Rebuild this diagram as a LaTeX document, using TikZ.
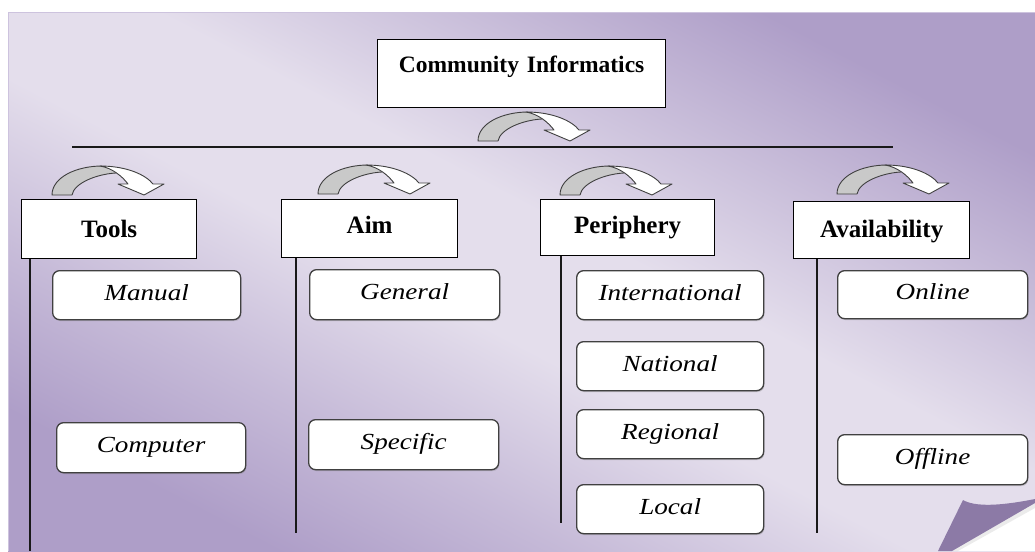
\documentclass[tikz,border=0pt]{standalone}
\usepackage{fontspec}
\setmainfont{Liberation Serif}
\newfontfamily\itfont[FakeStretch=1.18]{Liberation Serif}
\usetikzlibrary{shadows}
\definecolor{bgdark}{RGB}{174,158,200}
\definecolor{bglight}{RGB}{228,222,236}
\colorlet{bgmid}{bgdark!55!bglight}
\definecolor{folddark}{RGB}{140,122,166}
\definecolor{pageedge}{RGB}{205,195,222}
\pgfdeclareverticalshading{pagebg}{100bp}{color(0bp)=(bgdark); color(25bp)=(bgdark);
  color(35bp)=(bgmid); color(46bp)=(bglight); color(55bp)=(bglight);
  color(66bp)=(bgmid); color(75bp)=(bgdark); color(100bp)=(bgdark)}
\tikzset{
  curvarrow/.pic={
    \fill[gray!42] (0,0) .. controls (0,-18) and (25,-29) .. (50,-29)
      -- (64,-22) .. controls (45,-21) and (22,-12) .. (20,0) -- cycle;
    \draw[black!75, line width=0.9pt, line join=round]
      (20,0) -- (0,0) .. controls (0,-18) and (25,-29) .. (50,-29);
    \draw[black!75, line width=0.9pt, line join=round]
      (20,0) .. controls (22,-12) and (45,-21) .. (64,-22);
    \filldraw[fill=white, draw=black!75, line width=0.9pt, line join=round]
      (48,-29) .. controls (75,-29) and (94,-20) .. (101,-11)
      -- (112,-11) -- (92,0) -- (66,-11) -- (76,-11)
      .. controls (70,-19) and (60,-27) .. (48,-29) -- cycle;
  }
}
\begin{document}
\begin{tikzpicture}[x=1pt,y=-1pt,
  hdr/.style={draw=black, line width=1.3pt, fill=white, inner sep=0pt,
    font=\fontsize{25}{28}\selectfont\bfseries, anchor=north west, align=center},
  sub/.style={draw=black!75, line width=1.3pt, fill=white, rounded corners=7pt,
    inner sep=0pt, font=\itfont\itshape\fontsize{23}{26}\selectfont,
    anchor=north west, text height=15pt, text depth=5pt,
    drop shadow={shadow xshift=0.8pt, shadow yshift=-1.4pt, opacity=0.35}},
  conn/.style={line width=1.4pt, draw=black!90}]
\useasboundingbox (0,0) rectangle (1035,551);
\fill[white] (0,0) rectangle (1035,551);
\shade[shading=pagebg, shading angle=-27.6] (8,13) rectangle (1035,551);
\draw[pageedge, line width=1pt] (8,551) -- (8,13) -- (1035,13);
% page curl
\fill[white] (1035,503) -- (1035,551) -- (952,551) -- cycle;
\fill[black, opacity=0.08] (1035,503) -- (1035,508) -- (958,551) -- (952,551) -- cycle;
\fill[folddark] (963,500) .. controls (975,507) and (1000,506) .. (1035,499)
  -- (1035,503) -- (952,551) -- (938,551) -- cycle;

% title
\node[hdr, font=\fontsize{23.5}{26}\selectfont\bfseries, text width=288pt,
  text height=33pt, text depth=35pt] (ci) at (377,39) {Community Informatics};
\pic at (478,141) {curvarrow};
\coordinate (hl1) at (72,147);
\coordinate (hl2) at (893,147);
\draw[conn] (hl1) -- (hl2);

% headers
\pic at (52,195) {curvarrow};
\pic at (318,194) {curvarrow};
\pic at (560,195) {curvarrow};
\pic at (837,194) {curvarrow};
\node[hdr, text width=175pt, text height=38pt, text depth=21pt] (tools) at (21,199) {Tools};
\node[hdr, text width=176pt, text height=34pt, text depth=24pt] (aim) at (281,199) {Aim};
\node[hdr, text width=174pt, text height=34pt, text depth=22pt] (peri) at (540,199) {Periphery};
\node[hdr, text width=176pt, text height=36pt, text depth=21pt] (avail) at (793,201) {Availability};

% vertical connectors
\coordinate (tl) at (30,551);
\coordinate (al) at (296,533);
\coordinate (pl) at (561,523);
\coordinate (vl) at (817,533);
\draw[conn] (tools.south -| tl) -- (tl);
\draw[conn] (aim.south -| al) -- (al);
\draw[conn] (peri.south -| pl) -- (pl);
\draw[conn] (avail.south -| vl) -- (vl);

% sub items
\node[sub, minimum width=188pt, minimum height=49pt] (manual) at (52,270) {Manual};
\node[sub, minimum width=189pt, minimum height=50pt] (computer) at (56,422) {Computer};
\node[sub, minimum width=190pt, minimum height=50pt] (general) at (309,269) {General};
\node[sub, minimum width=190pt, minimum height=50pt] (specific) at (308,419) {Specific};
\node[sub, minimum width=187pt, minimum height=49pt] (intl) at (576,270) {International};
\node[sub, minimum width=187pt, minimum height=49pt] (natl) at (576,341) {National};
\node[sub, minimum width=187pt, minimum height=49pt] (regl) at (576,409) {Regional};
\node[sub, minimum width=187pt, minimum height=49pt] (local) at (576,484) {Local};
\node[sub, minimum width=190pt, minimum height=48pt] (online) at (837,270) {Online};
\node[sub, minimum width=190pt, minimum height=50pt] (offline) at (837,434) {Offline};
\end{tikzpicture}
\end{document}
